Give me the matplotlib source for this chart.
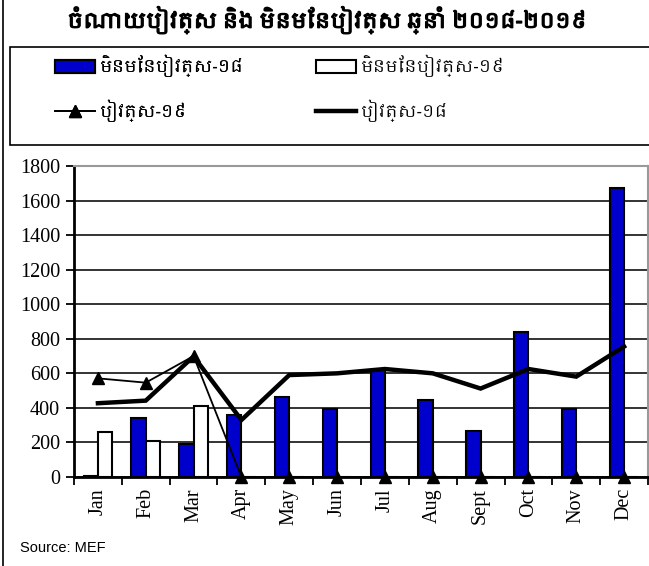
import numpy as np
import matplotlib.pyplot as plt
import matplotlib.patheffects as pe
from matplotlib import font_manager
from matplotlib.lines import Line2D
from matplotlib.patches import Patch, Rectangle

months = ['Jan', 'Feb', 'Mar', 'Apr', 'May', 'Jun', 'Jul', 'Aug', 'Sept', 'Oct', 'Nov', 'Dec']
unplanned_18 = [5, 342, 190, 357, 461, 393, 622, 446, 268, 841, 393, 1675]
unplanned_19 = [262, 210, 409, 0, 0, 0, 0, 0, 0, 0, 0, 0]
planned_19 = [571, 546, 700, 0, 0, 0, 0, 0, 0, 0, 0, 0]
planned_18 = [427, 442, 698, 330, 590, 600, 625, 600, 512, 625, 581, 755]

title = 'ចំណាយបៀវត្ស និង មិនមែនបៀវត្ស ឆ្នាំ ២០១៨-២០១៩'
lab_u18 = 'មិនមែនបៀវត្ស-១៨'
lab_u19 = 'មិនមែនបៀវត្ស-១៩'
lab_p19 = 'បៀវត្ស-១៩'
lab_p18 = 'បៀវត្ស-១៨'

names = {f.name for f in font_manager.fontManager.ttflist}
khmer = sorted(n for n in names if 'Khmer' in n) + ['DejaVu Sans']
serif = 'Liberation Serif'

fig = plt.figure(figsize=(6.49, 5.66), dpi=100)
ax = fig.add_axes([74 / 649, 89 / 566, 574 / 649, 311 / 566])

x = np.arange(len(months))
w = 0.3
ax.bar(x - w / 2, unplanned_18, w, color='#0000cc', edgecolor='black', linewidth=1.5, zorder=3)
ax.bar(x + w / 2, unplanned_19, w, color='white', edgecolor='black', linewidth=1.5, zorder=3)
ax.plot(x, planned_19, color='black', linewidth=1.3, marker='^', markersize=9, zorder=4, clip_on=False)
ax.plot(x, planned_18, color='black', linewidth=3.2, zorder=5, solid_joinstyle='miter')

ax.set_xlim(-0.5, 11.5)
ax.set_ylim(0, 1800)
ax.set_yticks(range(0, 1801, 200))
ax.yaxis.grid(True, color='#333333', linewidth=1.4, zorder=0)
ax.set_axisbelow(True)

ax.set_xticks(x)
ax.set_xticklabels(months, rotation=90, fontfamily=serif, fontsize=14.5)
ax.set_xticks(np.arange(-0.5, 12, 1), minor=True)
ax.tick_params(axis='x', which='major', length=0, pad=8)
ax.tick_params(axis='x', which='minor', length=6, width=1.3, direction='out')
ax.tick_params(axis='y', length=6, width=1.3, direction='out', pad=4)
for lbl in ax.get_yticklabels():
    lbl.set_fontfamily(serif)
    lbl.set_fontsize(14.5)

ax.spines['left'].set_linewidth(2)
ax.spines['bottom'].set_linewidth(2)
ax.spines['top'].set_color('#999999')
ax.spines['right'].set_color('#999999')
ax.spines['top'].set_linewidth(1.5)
ax.spines['right'].set_linewidth(1.5)

fig.text(327 / 649, 1 - 20 / 566, title, ha='center', va='center',
         fontsize=15, fontweight='bold', family=khmer,
         path_effects=[pe.withStroke(linewidth=1.0, foreground='black')])

# legend frame
fig.add_artist(Rectangle((10 / 649, 1 - 145 / 566), 640 / 649, 98 / 566,
                         transform=fig.transFigure, facecolor='none',
                         edgecolor='black', linewidth=1.2))

leg_kw = dict(prop={'family': khmer, 'size': 12}, handlelength=2.4,
              handleheight=0.8, labelspacing=1.35, borderpad=0, borderaxespad=0,
              frameon=False, handletextpad=0.3, loc='upper left')
left_handles = [Patch(facecolor='#0000cc', edgecolor='black', linewidth=1.5),
                Line2D([], [], color='black', linewidth=1.3, marker='^', markersize=8)]
right_handles = [Patch(facecolor='white', edgecolor='black', linewidth=1.5),
                 Line2D([], [], color='black', linewidth=3.2)]
leg1 = fig.legend(left_handles, [lab_u18, lab_p19],
                  bbox_to_anchor=(55 / 649, 1 - 55 / 566), **leg_kw)
fig.add_artist(leg1)
fig.legend(right_handles, [lab_u19, lab_p18],
           bbox_to_anchor=(316 / 649, 1 - 55 / 566), **leg_kw)

fig.add_artist(Line2D([3 / 649, 3 / 649], [0, 1], color='black', linewidth=1.2))

fig.text(20 / 649, 1 - 548 / 566, 'Source: MEF', fontsize=10.5, family='Liberation Sans',
         va='center')

fig.savefig('out.png', dpi=100)
